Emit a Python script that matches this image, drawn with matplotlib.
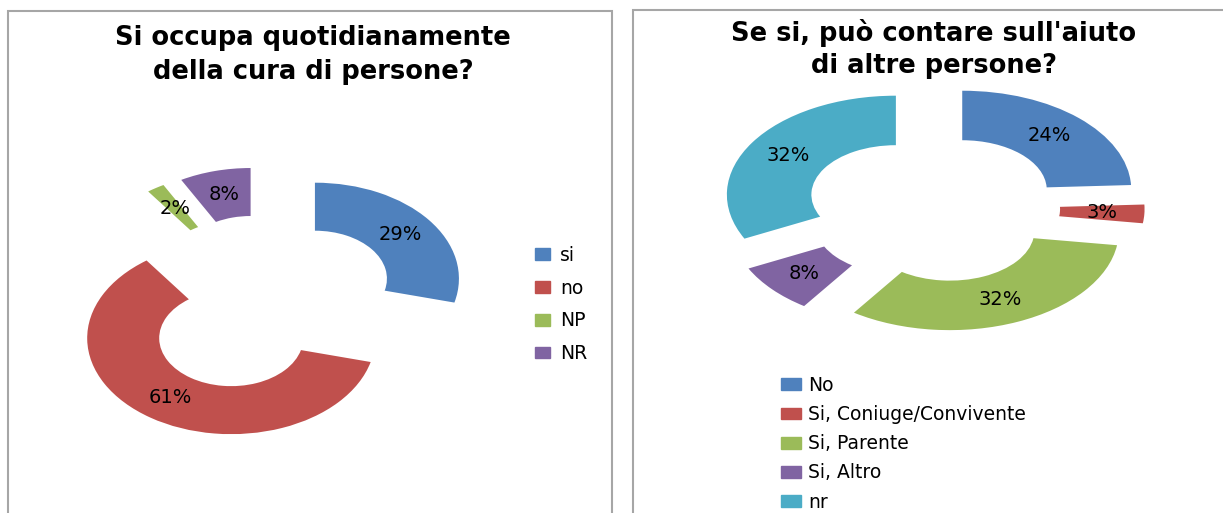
import matplotlib
matplotlib.use("Agg")
import matplotlib.pyplot as plt
from matplotlib.patches import Rectangle, Patch

# data
left_title = "Si occupa quotidianamente\ndella cura di persone?"
left_labels = ["si", "no", "NP", "NR"]
left_values = [29, 61, 2, 8]

right_title = "Se si, può contare sull'aiuto\ndi altre persone?"
right_labels = ["No", "Si, Coniuge/Convivente", "Si, Parente", "Si, Altro", "nr"]
right_values = [24, 3, 32, 8, 32]

colors = ["#4F81BD", "#C0504D", "#9BBB59", "#8064A2", "#4BACC6"]

W, H = 1223, 513
fig = plt.figure(figsize=(W / 100, H / 100), dpi=100)
fig.patch.set_facecolor("white")


def fx(x):
    return x / W


def fy(y):
    return 1 - y / H


def donut(values, cx, cy, sx, sy, xr, yr, expl):
    # axes placed by pixel centre, stretched horizontally like the original
    ax = fig.add_axes([fx(cx - xr * sx), fy(cy + yr * sy),
                       2 * xr * sx / W, 2 * yr * sy / H])
    ax.pie(values, explode=[expl] * len(values), startangle=90,
           counterclock=False, colors=colors[:len(values)],
           wedgeprops=dict(width=0.5, edgecolor="none"),
           autopct=lambda p: "%d%%" % round(p), pctdistance=0.75,
           textprops=dict(fontsize=14, color="black"))
    ax.set_aspect("auto")
    ax.set_xlim(-xr, xr)
    ax.set_ylim(-yr, yr)
    ax.axis("off")
    return ax


ax1 = donut(left_values, 266, 304, 144, 96, 1.75, 1.6, 0.43)
ax2 = donut(right_values, 932.5, 208, 169, 99, 1.5, 1.4, 0.255)

# panel borders
for x0, x1, y0 in [(7.5, 612, 11), (633, 1240, 10)]:
    fig.add_artist(Rectangle((fx(x0), fy(530)), fx(x1 - x0), (530 - y0) / H,
                             transform=fig.transFigure, fill=False,
                             edgecolor="#a6a6a6", linewidth=1.5))

# titles
fig.text(fx(313), fy(55), left_title, ha="center", va="center",
         fontsize=18.5, fontweight="bold", linespacing=1.4)
fig.text(fx(934), fy(49), right_title, ha="center", va="center",
         fontsize=18.5, fontweight="bold", linespacing=1.27)

# legends
h1 = [Patch(color=c) for c in colors[:4]]
ax1.legend(h1, left_labels, loc="upper left", bbox_to_anchor=(fx(535), fy(246)),
           bbox_transform=fig.transFigure, frameon=False, fontsize=13.5,
           handlelength=0.8, handleheight=0.6, handletextpad=0.55,
           labelspacing=0.73, borderpad=0, borderaxespad=0)

h2 = [Patch(color=c) for c in colors]
ax2.legend(h2, right_labels, loc="upper left", bbox_to_anchor=(fx(781), fy(376)),
           bbox_transform=fig.transFigure, frameon=False, fontsize=13.5,
           handlelength=1.05, handleheight=0.6, handletextpad=0.4,
           labelspacing=0.54, borderpad=0, borderaxespad=0)

fig.savefig("out.png", dpi=100)
